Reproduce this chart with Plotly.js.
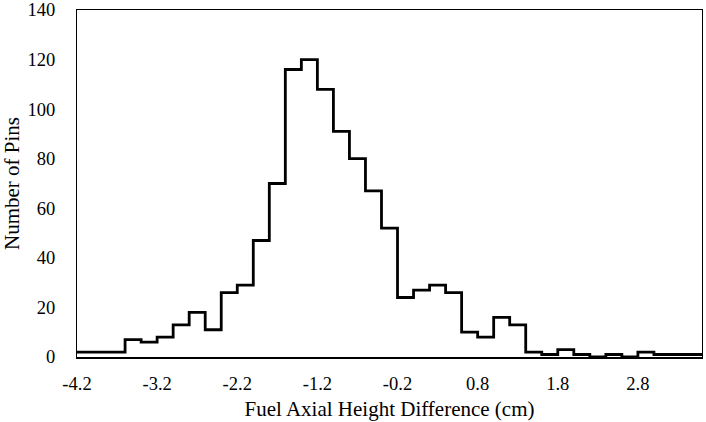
<!DOCTYPE html>
<html>
<head>
<meta charset="utf-8">
<script src="https://cdn.plot.ly/plotly-3.0.1.min.js"></script>
<style>
  html, body { margin: 0; padding: 0; background: #fff; }
  #chart { width: 706px; height: 422px; }
</style>
</head>
<body>
<div id="chart"></div>
<script>
// bin left edges (cm), 0.2 wide, and pin counts per bin
const binEdges = [-4.2, -4.0, -3.8, -3.6, -3.4, -3.2, -3.0, -2.8, -2.6, -2.4,
  -2.2, -2.0, -1.8, -1.6, -1.4, -1.2, -1.0, -0.8, -0.6, -0.4,
  -0.2, 0.0, 0.2, 0.4, 0.6, 0.8, 1.0, 1.2, 1.4, 1.6,
  1.8, 2.0, 2.2, 2.4, 2.6, 2.8, 3.0, 3.2, 3.4];
const lastEdge = 3.6;
const pinCounts = [2, 2, 2, 7, 6, 8, 13, 18, 11, 26,
  29, 47, 70, 116, 120, 108, 91, 80, 67, 52,
  24, 27, 29, 26, 10, 8, 16, 13, 2, 1,
  3, 1, 0, 1, 0, 2, 1, 1, 1];
const xTickVals = [-4.2, -3.2, -2.2, -1.2, -0.2, 0.8, 1.8, 2.8];
const xTickText = ['-4.2', '-3.2', '-2.2', '-1.2', '-0.2', '0.8', '1.8', '2.8'];

// step outline: each count held until the next edge
const xs = binEdges.concat([lastEdge]);
const ys = pinCounts.concat([pinCounts[pinCounts.length - 1]]);

const data = [
    {
        x: xs,
        y: ys,
        type: 'scatter',
        mode: 'lines',
        line: { shape: 'hv', color: '#000', width: 2.8 },
        cliponaxis: false,
        hoverinfo: 'x+y'
    }
];

const serif = 'Liberation Serif, Times New Roman, serif';

const layout = {
    width: 706,
    height: 422,
    margin: { l: 77, r: 4, t: 10, b: 65 },
    paper_bgcolor: '#fff',
    plot_bgcolor: '#fff',
    showlegend: false,
    font: { family: serif, size: 18, color: '#000' },
    xaxis: {
        range: [-4.2, 3.6],
        tickvals: xTickVals,
        ticktext: xTickText,
        ticks: '',
        ticklabelstandoff: 9,
        ticklabeloverflow: 'allow',
        showgrid: false,
        zeroline: false,
        showline: true,
        linecolor: '#000',
        linewidth: 1.5,
        mirror: true,
        tickfont: { family: serif, size: 18.5, color: '#000' },
        title: { text: 'Fuel Axial Height Difference (cm)', font: { family: serif, size: 21, color: '#000' }, standoff: 8 }
    },
    yaxis: {
        range: [0, 140],
        dtick: 20,
        ticks: '',
        ticklabelstandoff: 17,
        ticklabeloverflow: 'allow',
        showgrid: false,
        zeroline: false,
        showline: true,
        linecolor: '#000',
        linewidth: 1,
        mirror: true,
        tickfont: { family: serif, size: 18.5, color: '#000' },
        title: { text: 'Number of Pins', font: { family: serif, size: 21, color: '#000' }, standoff: 8 }
    }
};

Plotly.newPlot('chart', data, layout, { displayModeBar: false, staticPlot: true });
</script>
</body>
</html>
